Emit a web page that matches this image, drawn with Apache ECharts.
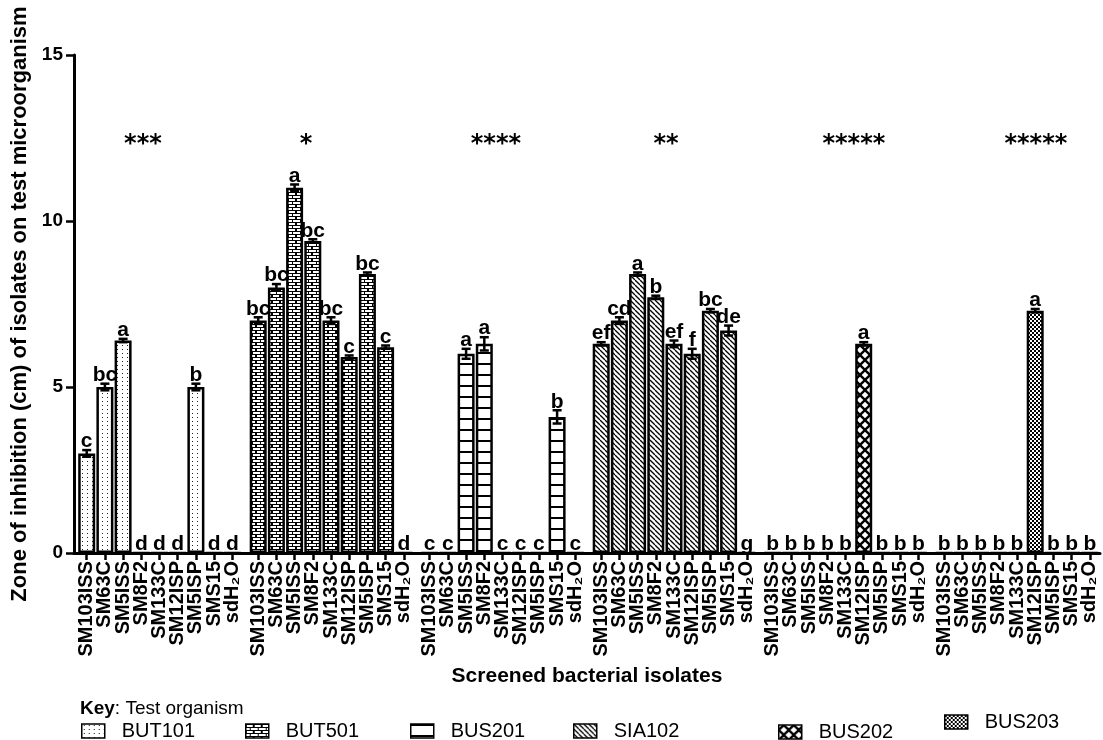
<!DOCTYPE html>
<html>
<head>
<meta charset="utf-8">
<title>Zone of inhibition</title>
<script src="https://cdn.jsdelivr.net/npm/echarts/dist/echarts.min.js"></script>
<style>
    html, body { margin: 0; padding: 0; background: #fff; }
    #main { width: 1103px; height: 740px; }
</style>
</head>
<body>
<div id="main"></div>
<script>
// isolates on the x axis (same order in every group)
var isolates = ['SM103ISS', 'SM63C', 'SM5ISS', 'SM8F2', 'SM133C', 'SM12ISP', 'SM5ISP', 'SMS15', 'sdH₂O'];
var organisms = ['BUT101', 'BUT501', 'BUS201', 'SIA102', 'BUS202', 'BUS203'];

// mean zone of inhibition (cm), one array per test organism
var zoneBUT101 = [3.0, 5.0, 6.4, 0, 0, 0, 5.0, 0, 0];
var zoneBUT501 = [7.0, 8.0, 11.0, 9.4, 7.0, 5.9, 8.4, 6.2, 0];
var zoneBUS201 = [0, 0, 6.0, 6.3, 0, 0, 0, 4.1, 0];
var zoneSIA102 = [6.3, 7.0, 8.4, 7.7, 6.3, 6.0, 7.3, 6.7, 0];
var zoneBUS202 = [0, 0, 0, 0, 0, 6.3, 0, 0, 0];
var zoneBUS203 = [0, 0, 0, 0, 0, 7.3, 0, 0, 0];

// standard errors
var errBUT101 = [0.1, 0.1, 0.05, 0, 0, 0, 0.1, 0, 0];
var errBUT501 = [0.1, 0.1, 0.1, 0.05, 0.1, 0.05, 0.05, 0.05, 0];
var errBUS201 = [0, 0, 0.15, 0.2, 0, 0, 0, 0.2, 0];
var errSIA102 = [0.05, 0.1, 0.05, 0.05, 0.1, 0.15, 0.05, 0.15, 0];
var errBUS202 = [0, 0, 0, 0, 0, 0.05, 0, 0, 0];
var errBUS203 = [0, 0, 0, 0, 0, 0.05, 0, 0, 0];

// mean separation letters
var lettersBUT101 = ['c', 'bc', 'a', 'd', 'd', 'd', 'b', 'd', 'd'];
var lettersBUT501 = ['bc', 'bc', 'a', 'bc', 'bc', 'c', 'bc', 'c', 'd'];
var lettersBUS201 = ['c', 'c', 'a', 'a', 'c', 'c', 'c', 'b', 'c'];
var lettersSIA102 = ['ef', 'cd', 'a', 'b', 'ef', 'f', 'bc', 'de', 'g'];
var lettersBUS202 = ['b', 'b', 'b', 'b', 'b', 'a', 'b', 'b', 'b'];
var lettersBUS203 = ['b', 'b', 'b', 'b', 'b', 'a', 'b', 'b', 'b'];

// significance stars per organism
var stars = ['***', '*', '****', '**', '*****', '*****'];

var yTicks = [0, 5, 10, 15];

var zones = [zoneBUT101, zoneBUT501, zoneBUS201, zoneSIA102, zoneBUS202, zoneBUS203];
var errs = [errBUT101, errBUT501, errBUS201, errSIA102, errBUS202, errBUS203];
var letters = [lettersBUT101, lettersBUT501, lettersBUS201, lettersSIA102, lettersBUS202, lettersBUS203];

var FONT = '"Liberation Sans", Arial, sans-serif';
var TOP = 55, PLOT_H = 498;
var GROUP_W = 163.8, GROUP_L0 = 77.6, GROUP_STEP = 171.5;
var starX = [143, 306, 496, 666, 854, 1036];
var legendX = [81, 245, 410, 573, 778, 944];
var legendY = [721, 721, 721, 721, 722, 712];

function makePattern(w, h, bg, draw) {
    var c = document.createElement('canvas');
    c.width = w;
    c.height = h;
    var ctx = c.getContext('2d');
    ctx.fillStyle = bg;
    ctx.fillRect(0, 0, w, h);
    ctx.fillStyle = '#000';
    ctx.strokeStyle = '#000';
    draw(ctx, w, h);
    return { image: c, repeat: 'repeat' };
}

var patterns = [
    // dots
    makePattern(5, 4, '#fff', function(ctx) {
        ctx.fillStyle = '#222';
        ctx.fillRect(2, 1, 1, 1);
    }),
    // bricks
    makePattern(8, 6, '#000', function(ctx) {
        ctx.fillStyle = '#fff';
        ctx.fillRect(1, 1, 6, 2);
        ctx.fillRect(5, 4, 3, 2);
        ctx.fillRect(0, 4, 4, 2);
    }),
    // horizontal lines
    makePattern(4, 11, '#fff', function(ctx) {
        ctx.fillRect(0, 0, 4, 2);
    }),
    // diagonal hatch
    makePattern(5, 5, '#fff', function(ctx) {
        ctx.lineWidth = 1.3;
        [-5, 0, 5].forEach(function(o) {
            ctx.beginPath();
            ctx.moveTo(o, 0);
            ctx.lineTo(o + 5, 5);
            ctx.stroke();
        });
    }),
    // black with white diamonds
    makePattern(10, 10, '#000', function(ctx) {
        ctx.fillStyle = '#fff';
        [[5, 5], [0, 0], [10, 0], [0, 10], [10, 10]].forEach(function(p) {
            ctx.beginPath();
            ctx.moveTo(p[0], p[1] - 3.3);
            ctx.lineTo(p[0] + 3.3, p[1]);
            ctx.lineTo(p[0], p[1] + 3.3);
            ctx.lineTo(p[0] - 3.3, p[1]);
            ctx.closePath();
            ctx.fill();
        });
    }),
    // fine checker
    makePattern(4, 4, '#fff', function(ctx) {
        ctx.fillRect(0, 0, 2, 2);
        ctx.fillRect(2, 2, 2, 2);
    })
];

var myChart = echarts.init(document.getElementById('main'));

var grids = [{ left: 74, top: TOP, width: 1026, height: PLOT_H }];
var xAxes = [{
    type: 'value', gridIndex: 0, min: 0, max: 1,
    axisLine: { show: true, lineStyle: { color: '#000', width: 3 } },
    axisTick: { show: false }, axisLabel: { show: false }, splitLine: { show: false },
    name: 'Screened bacterial isolates', nameLocation: 'middle', nameGap: 113,
    nameTextStyle: { color: '#000', fontSize: 21, fontWeight: 'bold', fontFamily: FONT }
}];
var yAxes = [{
    type: 'value', gridIndex: 0, min: 0, max: 15, interval: 5,
    axisLine: { show: true, lineStyle: { color: '#000', width: 3 } },
    axisTick: { show: true, length: 8, lineStyle: { color: '#000', width: 2.5 } },
    axisLabel: {
        margin: 11, color: '#000', fontSize: 19, fontWeight: 'bold', fontFamily: FONT,
        formatter: function(v) { return yTicks.indexOf(v) >= 0 ? v : ''; }
    },
    splitLine: { show: false },
    name: 'Zone of inhibition (cm) of isolates on test microorganism',
    nameLocation: 'middle', nameGap: 40,
    nameTextStyle: { color: '#000', fontSize: 22, fontWeight: 'bold', fontFamily: FONT }
}];
var series = [];

organisms.forEach(function(org, g) {
    var k = g + 1;
    grids.push({ left: GROUP_L0 + GROUP_STEP * g, top: TOP, width: GROUP_W, height: PLOT_H });
    xAxes.push({
        type: 'category', gridIndex: k, data: isolates,
        axisLine: { show: false },
        axisTick: { show: true, alignWithLabel: true, length: 7, lineStyle: { color: '#000', width: 2.5 } },
        axisLabel: {
            interval: 0, rotate: 90, margin: 8, color: '#000',
            fontSize: 20, fontWeight: 'bold', fontFamily: FONT
        },
        splitLine: { show: false }
    });
    yAxes.push({ type: 'value', gridIndex: k, min: 0, max: 15, show: false });

    series.push({
        name: org,
        type: 'bar',
        xAxisIndex: k,
        yAxisIndex: k,
        barWidth: 17,
        data: zones[g],
        itemStyle: { color: patterns[g], borderColor: '#000', borderWidth: 2.5 },
        emphasis: { disabled: true }
    });

    series.push({
        type: 'custom',
        xAxisIndex: k,
        yAxisIndex: k,
        z: 5,
        silent: true,
        data: zones[g].map(function(v, i) { return [i, v, errs[g][i]]; }),
        renderItem: function(params, api) {
            var i = api.value(0), v = api.value(1), e = api.value(2);
            var hi = api.coord([i, v + e]);
            var lo = api.coord([i, v - e]);
            var children = [];
            if (v > 0) {
                var st = { stroke: '#000', lineWidth: 2.5 };
                children.push({ type: 'line', shape: { x1: hi[0], y1: hi[1], x2: lo[0], y2: lo[1] }, style: st });
                children.push({ type: 'line', shape: { x1: hi[0] - 4.5, y1: hi[1], x2: hi[0] + 4.5, y2: hi[1] }, style: st });
                children.push({ type: 'line', shape: { x1: lo[0] - 4.5, y1: lo[1], x2: lo[0] + 4.5, y2: lo[1] }, style: st });
            }
            children.push({
                type: 'text',
                style: {
                    text: letters[g][params.dataIndex],
                    x: hi[0], y: hi[1] + 2,
                    align: 'center', verticalAlign: 'bottom',
                    font: 'bold 21px ' + FONT, fill: '#000'
                }
            });
            return { type: 'group', children: children };
        }
    });
});

var legends = organisms.map(function(org, g) {
    return {
        data: [org],
        left: legendX[g],
        top: legendY[g],
        padding: 0,
        icon: 'rect',
        itemWidth: 23,
        itemHeight: 14,
        selectedMode: false,
        itemStyle: { borderColor: '#000', borderWidth: 1.5 },
        textStyle: { color: '#000', fontSize: 20, fontFamily: FONT, padding: [0, 0, 0, 12] }
    };
});

var graphics = stars.map(function(s, g) {
    return {
        type: 'text',
        left: starX[g] - s.length * 6.3,
        top: 133,
        style: { text: s, font: 'bold 24px "DejaVu Sans", sans-serif', fill: '#000' }
    };
});

var option = {
    animation: false,
    backgroundColor: '#fff',
    title: {
        text: '{b|Key}: Test organism',
        left: 80,
        top: 699,
        padding: 0,
        textStyle: {
            color: '#000', fontSize: 19, fontWeight: 'normal', fontFamily: FONT,
            rich: { b: { color: '#000', fontSize: 19, fontWeight: 'bold', fontFamily: FONT } }
        }
    },
    legend: legends,
    grid: grids,
    xAxis: xAxes,
    yAxis: yAxes,
    graphic: graphics,
    series: series
};

myChart.setOption(option);
</script>
</body>
</html>
